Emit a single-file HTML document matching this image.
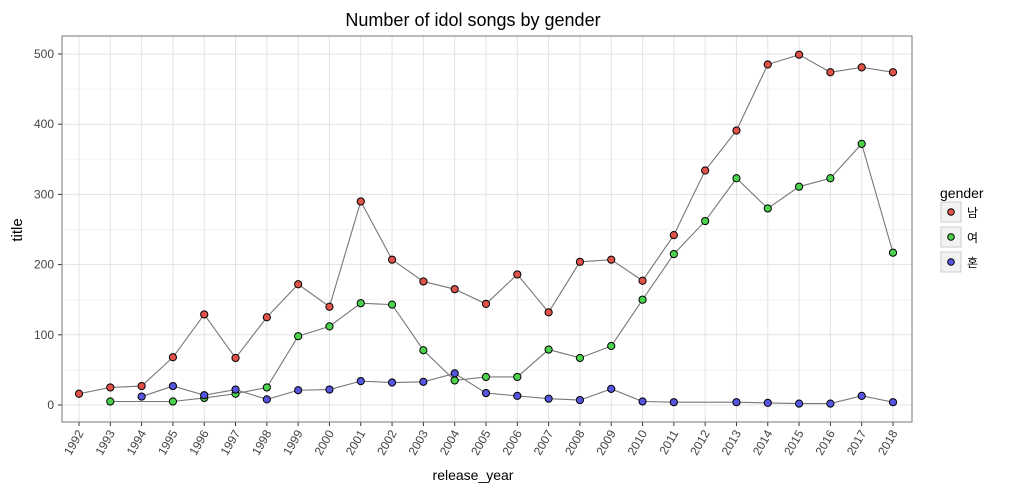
<!DOCTYPE html>
<html><head><meta charset="utf-8"><style>
body{margin:0;background:#fff;}
svg text{font-family:"Liberation Sans","Noto Sans CJK KR",sans-serif;}
</style></head><body>
<svg id="c" width="1016" height="493" xmlns="http://www.w3.org/2000/svg">
<text x="473" y="26" font-size="18" text-anchor="middle" fill="#000">Number of idol songs by gender</text>
<g id="grid"></g><g id="lines"></g><g id="pts"></g><g id="axes"></g>
<text x="473" y="480" font-size="14" text-anchor="middle">release_year</text>
<text x="22" y="230" font-size="15" text-anchor="middle" transform="rotate(-90 22 230)">title</text>
<g id="legend">
<text x="940" y="198" font-size="14">gender</text>
</g>
</svg>
<script>
const years=[1992,1993,1994,1995,1996,1997,1998,1999,2000,2001,2002,2003,2004,2005,2006,2007,2008,2009,2010,2011,2012,2013,2014,2015,2016,2017,2018];
const male=[16,25,27,68,129,67,125,172,140,290,207,176,165,144,186,132,204,207,177,242,334,391,485,499,474,481,474];
const female=[null,5,null,5,10,16,25,98,112,145,143,78,35,40,40,79,67,84,150,215,262,323,280,311,323,372,217];
const mixed=[null,null,12,27,14,22,8,21,22,34,32,33,45,17,13,9,7,23,5,4,null,4,3,2,2,13,4];
const seriesNames=['남','여','혼'];
const colors=['#e0534a','#4cd24c','#5555e0'];
const yTicks=[0,100,200,300,400,500];
const NS='http://www.w3.org/2000/svg';
const L=62,R=912,T=36,B=422;
const xs=y=>79+(y-1992)*(893-79)/26;
const ys=v=>405-v*(405-54)/500;
function mk(tag,attrs,parent){const e=document.createElementNS(NS,tag);for(const k in attrs)e.setAttribute(k,attrs[k]);document.getElementById(parent).appendChild(e);return e;}
for(let v=50;v<=550;v+=100){if(ys(v)>T){const g=mk('line',{x1:L,x2:R,y1:ys(v),y2:ys(v),stroke:'#f2f2f2','stroke-width':1},'grid');}}
yTicks.forEach(v=>{const g=mk('line',{x1:L,x2:R,y1:ys(v),y2:ys(v),stroke:'#e3e3e3','stroke-width':1},'grid');
const t=mk('text',{x:L-8,y:ys(v)+4,'font-size':12,'text-anchor':'end',fill:'#444'},'axes');t.textContent=v;
mk('line',{x1:L-4,x2:L,y1:ys(v),y2:ys(v),stroke:'#333'},'axes');});
years.forEach(y=>{const g=mk('line',{x1:xs(y),x2:xs(y),y1:T,y2:B,stroke:'#e3e3e3','stroke-width':1},'grid');
mk('line',{x1:xs(y),x2:xs(y),y1:B,y2:B+4,stroke:'#333'},'axes');
const t=mk('text',{x:xs(y)+5,y:B+11,'font-size':12,'text-anchor':'end',fill:'#444',transform:`rotate(-60 ${xs(y)+5} ${B+11})`},'axes');t.textContent=y;});
const fr=mk('rect',{x:L,y:T,width:R-L,height:B-T,fill:'none',stroke:'#777','stroke-width':1},'axes');

[male,female,mixed].forEach((s,i)=>{
 const pts=[];s.forEach((v,j)=>{if(v!==null)pts.push(xs(years[j])+','+ys(v));});
 const pl=mk('polyline',{points:pts.join(' '),fill:'none',stroke:'#777','stroke-width':1.1},'lines');
 
 s.forEach((v,j)=>{if(v===null)return;const c=mk('circle',{cx:xs(years[j]),cy:ys(v),r:3.6,fill:colors[i],stroke:'#000','stroke-width':1},'pts');
 });
 const ly=213+i*25;
 const r=mk('rect',{x:941,y:ly-11,width:20,height:20,fill:'#f2f2f2',stroke:'#ccc'},'legend');
 const lc=mk('circle',{cx:951,cy:ly-1,r:3.3,fill:colors[i],stroke:'#000'},'legend');
 const lt=mk('text',{x:967,y:ly+4,'font-size':12},'legend');lt.textContent=seriesNames[i];
});
</script>
</body></html>
